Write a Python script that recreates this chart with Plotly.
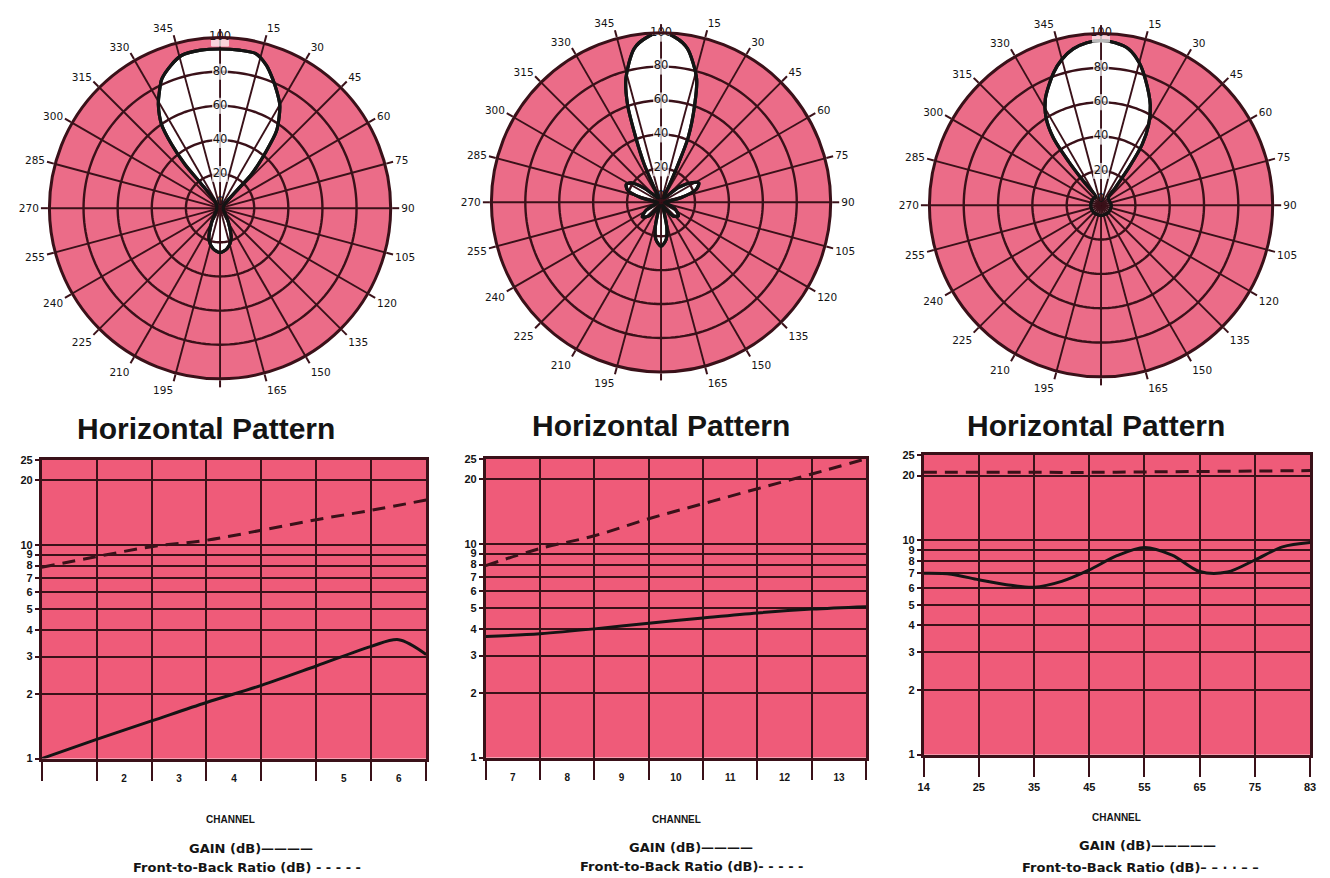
import numpy as np
import plotly.graph_objects as go

W, H = 1330, 878

# ---------------------------------------------------------------------------
# Horizontal patterns: relative field (%) vs azimuth (deg, clockwise from boresight)
# ---------------------------------------------------------------------------
lo_vhf_theta = [0, 7, 13, 18, 22, 26, 30, 33, 36.2, 39, 42.7, 43.4, 48, 70, 90, 110, 135, 150, 160,
                170, 180, 190, 200, 210, 225, 250, 270, 290, 315, 324, 322.3, 321.3, 322.8,
                325.1, 329.2, 332.5, 335.7, 341, 345.8, 353, 360]
lo_vhf_r = [93.3, 93.3, 93, 88, 82, 76, 70, 63.5, 56, 43, 27.5, 14.6, 4, 2, 2, 2, 4, 10, 19,
            24, 26, 24, 19, 10, 4, 2, 2, 2, 3, 6, 18, 33, 47,
            60, 70.6, 77, 83, 88.5, 92.3, 93.3, 93.3]

hi_vhf_theta = [0, 5, 9.7, 16, 19, 22.7, 24.2, 25.8, 31, 40, 50, 58, 63, 70, 77, 85, 95, 102,
                115, 128, 138, 148, 155, 162, 167, 172, 180, 188, 193, 198, 205, 212, 222,
                232, 242, 255, 265, 275, 283, 290, 297, 303, 310, 320, 329, 335, 336.2,
                338.7, 341.1, 344.2, 350.1, 355, 360]
hi_vhf_r = [100, 97.5, 92, 76, 61, 41.5, 25, 12.5, 3, 4, 14, 22, 25, 22, 12, 3, 2, 3,
            9, 13, 11, 4, 2, 5, 15, 22, 26, 22, 15, 5, 2, 4, 11,
            14, 10, 3, 2, 3, 12, 21, 23, 21, 13, 4, 3, 12.4, 25,
            41, 61, 76, 92, 97.5, 100]

uhf_theta = [0, 5, 10, 15, 19.3, 26.2, 30.6, 34, 36.5, 39, 45, 90, 135, 180, 225, 270, 315,
             329, 323.7, 323.5, 324.7, 327.8, 332.4, 340.3, 345, 349.9, 355, 360]
uhf_r = [96, 95, 92.5, 86, 78, 65, 54.5, 43, 27.4, 13.6, 6, 6, 6, 6, 6, 6, 6,
         5.6, 18, 32, 48, 60, 70, 82, 88, 92.5, 95, 96]

azimuth_ticks = list(range(0, 360, 15))
azimuth_labels = ["" if a in (0, 180) else str(a) for a in azimuth_ticks]
ring_values = [20, 40, 60, 80, 100]
ring_labels = ["20", "40", "60", "80", "100"]

# ---------------------------------------------------------------------------
# Gain / front-to-back ratio against channel (band edges on the x scale)
# ---------------------------------------------------------------------------
lo_edges = [0, 1, 2, 3, 4, 5, 6, 6.5, 7]
lo_gain = [1.0, 1.23, 1.5, 1.83, 2.2, 2.71, 3.35, 3.6, 3.07]
lo_fb_edges = [0, 1, 2, 3, 4, 5, 6, 7]
lo_fb = [7.85, 8.8, 9.8, 10.5, 11.7, 13.1, 14.5, 16.2]
lo_channels = ["", "2", "3", "4", "", "5", "6"]

hi_edges = [0, 1, 2, 3, 4, 5, 6, 7]
hi_gain = [3.68, 3.8, 4.0, 4.25, 4.5, 4.75, 4.95, 5.08]
hi_fb = [7.9, 9.5, 10.9, 13.1, 15.4, 18.1, 21.2, 25.0]
hi_channels = ["7", "8", "9", "10", "11", "12", "13"]

uhf_edges = [0, 0.5, 1, 1.5, 2, 2.5, 3, 3.5, 4, 4.5, 5, 5.5, 6, 6.5, 7]
uhf_gain = [7.0, 6.94, 6.53, 6.2, 6.03, 6.42, 7.26, 8.46, 9.24, 8.51, 7.14, 7.1, 8.08, 9.3, 9.74]
uhf_fb_edges = [0, 1, 2, 3, 4, 5, 6, 7]
uhf_fb = [20.7, 20.7, 20.7, 20.7, 20.8, 20.9, 21.0, 21.1]
uhf_channels = ["14", "25", "35", "45", "55", "65", "75", "83"]

y_ticks = [1, 2, 3, 4, 5, 6, 7, 8, 9, 10, 20, 25]

# ---------------------------------------------------------------------------
POLAR_PINK = "#EB6C88"
PLOT_PINK = "#EF5B79"
GRID = "#3A1119"
INK = "#141414"


def px(x, y):
    return x / W, 1 - y / H


def polar_domain(cx, cy, r):
    return dict(x=[(cx - r) / W, (cx + r) / W], y=[1 - (cy + r) / H, 1 - (cy - r) / H])


def cart_domain(x0, x1, y0, y1):
    return [x0 / W, x1 / W], [1 - y1 / H, 1 - y0 / H]


fig = go.Figure()

patterns = [(lo_vhf_theta, lo_vhf_r, "polar"),
            (hi_vhf_theta, hi_vhf_r, "polar2"),
            (uhf_theta, uhf_r, "polar3")]

for theta, r, sp in patterns:
    # lobe
    fig.add_trace(go.Scatterpolar(
        r=r, theta=theta, mode="lines", fill="toself", fillcolor="white",
        line=dict(color=INK, width=3.2, shape="spline", smoothing=0.8),
        subplot=sp, showlegend=False, hoverinfo="skip"))
    # spokes drawn over the lobe
    sr, st = [], []
    for a in azimuth_ticks:
        sr += [0, 100, None]
        st += [a, a, None]
    fig.add_trace(go.Scatterpolar(
        r=sr, theta=st, mode="lines", line=dict(color=GRID, width=1.9),
        subplot=sp, showlegend=False, hoverinfo="skip"))
    # rings drawn over the lobe
    ring_theta = np.arange(0, 361, 2)
    rr, rt = [], []
    for v in ring_values[:-1]:
        rr += [v] * len(ring_theta) + [None]
        rt += list(ring_theta) + [None]
    fig.add_trace(go.Scatterpolar(
        r=rr, theta=rt, mode="lines", line=dict(color=GRID, width=2.4),
        subplot=sp, showlegend=False, hoverinfo="skip"))
    # lobe outline again on top
    fig.add_trace(go.Scatterpolar(
        r=r, theta=theta, mode="lines",
        line=dict(color=INK, width=3.2, shape="spline", smoothing=0.8),
        subplot=sp, showlegend=False, hoverinfo="skip"))
    # radial scale labels along boresight
    fig.add_trace(go.Scatterpolar(
        r=ring_values, theta=[0] * len(ring_values), mode="markers+text",
        text=ring_labels, textposition="middle center",
        textfont=dict(family="DejaVu Sans", size=11.5, color=INK),
        marker=dict(symbol="square", size=[15, 15, 15, 15, 17], color="white"),
        subplot=sp, showlegend=False, hoverinfo="skip"))
    fig.add_trace(go.Scatterpolar(
        r=[0], theta=[0], mode="text", text=["0"], textposition="top center",
        textfont=dict(family="DejaVu Sans", size=11.5, color=INK),
        subplot=sp, showlegend=False, hoverinfo="skip"))


def polar_layout(cx, cy, r):
    return dict(
        domain=polar_domain(cx, cy, r),
        bgcolor=POLAR_PINK,
        radialaxis=dict(range=[0, 100], showticklabels=False, ticks="", showline=False,
                        showgrid=False),
        angularaxis=dict(direction="clockwise", rotation=90, tickmode="array",
                         tickvals=azimuth_ticks, ticktext=azimuth_labels,
                         ticks="outside", ticklen=7, tickwidth=2, tickcolor=GRID,
                         showline=True, linecolor=GRID, linewidth=3, showgrid=False,
                         tickfont=dict(family="DejaVu Sans", size=10.5, color=INK)),
    )


# gain / F-B charts
cart = [
    ("x", "y", lo_edges, lo_gain, lo_fb_edges, lo_fb),
    ("x2", "y2", hi_edges, hi_gain, hi_edges, hi_fb),
    ("x3", "y3", uhf_edges, uhf_gain, uhf_fb_edges, uhf_fb),
]
for xa, ya, ge, g, fe, fb in cart:
    fig.add_trace(go.Scatter(x=fe, y=fb, mode="lines", xaxis=xa, yaxis=ya,
                             line=dict(color=GRID, width=3, dash="13px,8px", shape="spline"),
                             showlegend=False, hoverinfo="skip"))
    fig.add_trace(go.Scatter(x=ge, y=g, mode="lines", xaxis=xa, yaxis=ya,
                             line=dict(color=INK, width=3, shape="spline", smoothing=0.9),
                             showlegend=False, hoverinfo="skip"))


def y_axis(x_anchor, dom):
    return dict(domain=dom, anchor=x_anchor, type="log", range=[0, np.log10(25)],
                tickmode="array", tickvals=y_ticks, ticktext=[str(v) for v in y_ticks],
                ticks="outside", ticklen=4, tickwidth=2, tickcolor=GRID,
                showgrid=True, gridcolor=GRID, gridwidth=2,
                showline=True, mirror=True, linecolor=GRID, linewidth=2.5, zeroline=False,
                tickfont=dict(family="Liberation Sans", size=11, color=INK, weight="bold"))


def x_axis_bands(y_anchor, dom, labels):
    return dict(domain=dom, anchor=y_anchor, range=[0, 7],
                tickmode="array", tickvals=[i + 0.5 for i in range(7)], ticktext=labels,
                ticks="", showgrid=False, zeroline=False,
                showline=True, mirror=True, linecolor=GRID, linewidth=2.5,
                ticklabelstandoff=9,
                minor=dict(tick0=0, dtick=1, ticks="outside", ticklen=20, tickwidth=2,
                           tickcolor=GRID, showgrid=True, gridcolor=GRID, gridwidth=2),
                tickfont=dict(family="Liberation Sans", size=10, color=INK, weight="bold"))


def x_axis_edges(y_anchor, dom, labels):
    return dict(domain=dom, anchor=y_anchor, range=[0, 7],
                tickmode="array", tickvals=list(range(8)), ticktext=labels,
                ticks="outside", ticklen=20, tickwidth=2, tickcolor=GRID,
                showgrid=True, gridcolor=GRID, gridwidth=2, zeroline=False,
                showline=True, mirror=True, linecolor=GRID, linewidth=2.5,
                tickfont=dict(family="Liberation Sans", size=11, color=INK, weight="bold"))


x1d, y1d = cart_domain(36, 424, 460, 763)
x2d, y2d = cart_domain(484, 868, 459, 762)
x3d, y3d = cart_domain(926, 1316, 455, 759)


def note(cx, cy, text, font):
    ax, ay = px(cx, cy)
    return dict(x=ax, y=ay, xref="paper", yref="paper", showarrow=False,
                xanchor="center", yanchor="middle", text=text, font=font)


annotations = []
for cx, cy in [(202, 428), (661, 425), (1100, 425)]:
    annotations.append(note(cx, cy, "<b>Horizontal Pattern</b>",
                            dict(family="Liberation Sans", size=30, color=INK)))
for cx, cy in [(227, 825), (677, 825), (1121, 823)]:
    annotations.append(note(cx, cy, "<b>CHANNEL</b>",
                            dict(family="Liberation Sans", size=10, color=INK)))
legend_rows = [
    ((247, 854), "GAIN (dB)————", (243, 873), "Front-to-Back Ratio (dB) - - - - -"),
    ((691, 853), "GAIN (dB)————", (692, 872), "Front-to-Back Ratio (dB)- - - - -"),
    ((1152, 851), "GAIN (dB)—————", (1145, 873), "Front-to-Back Ratio (dB)– – · · – –"),
]
legend_font = dict(family="DejaVu Sans", size=13, color=INK, weight="bold")
for (gx, gy), gt, (fx, fy), ft in legend_rows:
    annotations.append(note(gx, gy, gt, legend_font))
    annotations.append(note(fx, fy, ft, legend_font))

fig.update_layout(
    width=W, height=H, autosize=False,
    margin=dict(l=0, r=0, t=0, b=0),
    paper_bgcolor="white", plot_bgcolor=PLOT_PINK,
    polar=polar_layout(216, 205, 173),
    polar2=polar_layout(661, 199, 172),
    polar3=polar_layout(1105, 202, 174),
    xaxis=x_axis_bands("y", x1d, lo_channels),
    yaxis=y_axis("x", y1d),
    xaxis2=x_axis_bands("y2", x2d, hi_channels),
    yaxis2=y_axis("x2", y2d),
    xaxis3=x_axis_edges("y3", x3d, uhf_channels),
    yaxis3=y_axis("x3", y3d),
    annotations=annotations,
    showlegend=False,
)

fig.write_html("out.html", config={"displayModeBar": False})
